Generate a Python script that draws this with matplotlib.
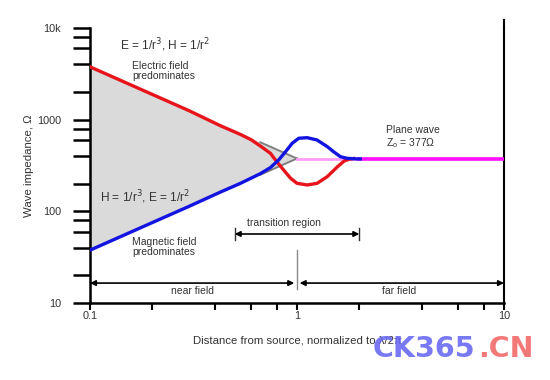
import matplotlib
matplotlib.use("Agg")
import matplotlib.pyplot as plt

plt.rcParams['font.family'] = ['Liberation Sans', 'DejaVu Sans']

# ---- data ----
red_x = [0.1, 0.2, 0.3, 0.426, 0.533, 0.6, 0.666, 0.744, 0.787, 0.848, 0.93, 1.0, 1.12, 1.25, 1.40, 1.57, 1.69, 1.78, 1.88]
red_y = [3770, 1885, 1257, 860, 690, 605, 515, 430, 363, 295, 230, 202, 194, 202, 239, 307, 354, 370, 377]

blue_x = [0.1, 0.2, 0.3, 0.426, 0.533, 0.666, 0.744, 0.815, 0.881, 0.948, 1.02, 1.12, 1.25, 1.40, 1.50, 1.62, 1.74, 1.95, 2.02]
blue_y = [37.7, 75.4, 113, 162, 202, 258, 300, 363, 448, 553, 627, 636, 600, 508, 448, 395, 379, 373, 373]

asym_x = [0.1, 1.0]
asym_upper = [3770, 377]
asym_lower = [37.7, 377]

gray_upper_x = [0.666, 1.0]
gray_upper_y = [566, 377]
gray_lower_x = [0.666, 1.0]
gray_lower_y = [251, 377]

pink_x = [1.0, 1.9]
pink_y = [377, 377]
plane_x = [1.95, 10]
plane_y = [377, 377]

x_ticks = [0.1, 1, 10]
x_ticklabels = ['0.1', '1', '10']
y_ticks = [10, 100, 1000, 10000]
y_ticklabels = ['10', '100', '1000', '10k']

txt = '#333333'

fig = plt.figure(figsize=(5.5, 3.8), dpi=100)
ax = fig.add_axes([90/550, 1-303/380, 414/550, 275/380])
ax.set_xscale('log')
ax.set_yscale('log')
ax.set_xlim(0.1, 10)
ax.set_ylim(10, 10000)

ax.fill_between(asym_x, asym_lower, asym_upper, color='#dadada', lw=0, zorder=1)
ax.plot(gray_upper_x, gray_upper_y, color='#808080', lw=1.4, zorder=2)
ax.plot(gray_lower_x, gray_lower_y, color='#808080', lw=1.4, zorder=2)
ax.plot(pink_x, pink_y, color='#ff9cff', lw=2.0, zorder=2)
ax.plot(plane_x, plane_y, color='#ff10ff', lw=2.6, zorder=3, solid_capstyle='butt')
ax.plot(red_x, red_y, color='#e8141b', lw=2.4, zorder=4, solid_joinstyle='round')
ax.plot(blue_x, blue_y, color='#1414e0', lw=2.4, zorder=5, solid_joinstyle='round')

# spines / ticks
ax.spines['top'].set_visible(False)
for s in ['left', 'bottom']:
    ax.spines[s].set_linewidth(1.8)
ax.spines['right'].set_linewidth(1.5)
ax.plot([10, 10], [10000, 12300], color='black', lw=1.5, clip_on=False)

ax.set_xticks(x_ticks)
ax.set_xticklabels(x_ticklabels)
ax.set_yticks(y_ticks)
ax.set_yticklabels(y_ticklabels)
ax.set_xticks([m*d for d in [0.1, 1] for m in [2, 4, 6, 8]], minor=True)
ax.set_yticks([m*d for d in [10, 100, 1000] for m in [2, 4, 6, 8]], minor=True)
ax.set_xticklabels([], minor=True)
ax.set_yticklabels([], minor=True)
ax.tick_params(axis='y', which='both', direction='out', length=12, width=1.8, pad=9,
               labelsize=7.8, labelcolor=txt)
ax.tick_params(axis='x', which='both', direction='out', length=5, width=1.5, pad=1,
               labelsize=7.8, labelcolor=txt)
ax.tick_params(axis='y', which='both', right=False)

ax.set_xlabel('Distance from source, normalized to λ/2π', fontsize=8.2, color=txt, labelpad=10)
ax.set_ylabel('Wave impedance, Ω', fontsize=8.2, color=txt, labelpad=2)

fs = 7.5
ax.text(0.1397, 6530, 'E = 1/r$^3$, H = 1/r$^2$', fontsize=8.6, color=txt, va='center', ha='left')
ax.text(0.16, 3357, 'Electric field\npredominates', fontsize=fs, color=txt, va='center', ha='left',
        linespacing=1.0)
ax.text(0.1118, 143.5, 'H = 1/r$^3$, E = 1/r$^2$', fontsize=8.6, color=txt, va='center', ha='left')
ax.text(0.16, 40.4, 'Magnetic field\npredominates', fontsize=fs, color=txt, va='center', ha='left',
        linespacing=1.0)
ax.text(2.68, 772, 'Plane wave', fontsize=fs, color=txt, va='center', ha='left')
ax.text(2.68, 557, 'Z$_\\mathregular{o}$ = 377Ω', fontsize=fs, color=txt, va='center', ha='left')
ax.text(0.866, 74.7, 'transition region', fontsize=fs, color=txt, va='center', ha='center')
ax.text(0.312, 13.5, 'near field', fontsize=fs, color=txt, va='center', ha='center')
ax.text(3.10, 13.5, 'far field', fontsize=fs, color=txt, va='center', ha='center')

# arrows
ap = dict(arrowstyle='<|-|>', color='black', lw=1.2, mutation_scale=8, shrinkA=0, shrinkB=0)
ax.annotate('', xy=(0.5, 56.6), xytext=(2.0, 56.6), arrowprops=ap)
ax.plot([0.5, 0.5], [49, 65], color='#333333', lw=1.0)
ax.plot([2.0, 2.0], [49, 65], color='#333333', lw=1.0)
ax.annotate('', xy=(0.1, 16.5), xytext=(0.97, 16.5), arrowprops=ap, annotation_clip=False)
ax.annotate('', xy=(1.03, 16.5), xytext=(10, 16.5), arrowprops=ap, annotation_clip=False)
ax.plot([1, 1], [37.7, 14.2], color='#888888', lw=1.0)

# watermark
fig.text(373/550, 1-357/380, 'CK365', fontsize=20.5, fontweight='bold', color='#6a6af4',
         alpha=0.9, ha='left', va='baseline', family='DejaVu Sans')
fig.text(534/550, 1-357/380, '.CN', fontsize=20.5, fontweight='bold', color='#f26b6b',
         alpha=0.9, ha='right', va='baseline', family='DejaVu Sans')

fig.savefig('out.png', dpi=100)
